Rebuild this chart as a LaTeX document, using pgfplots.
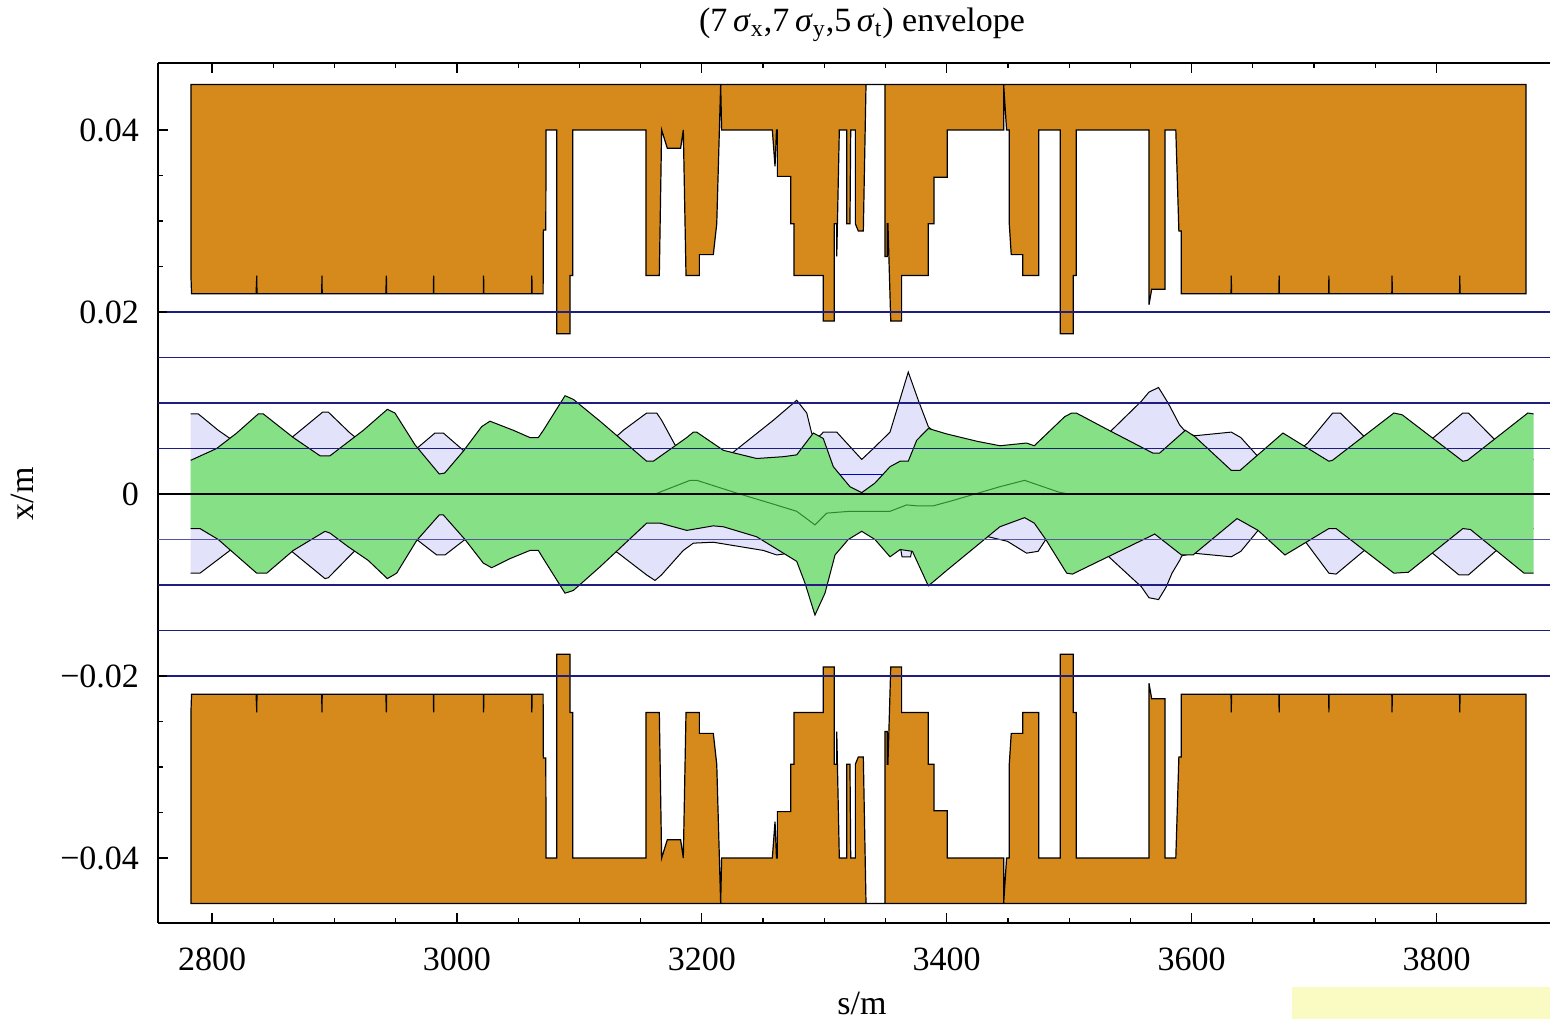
\documentclass[border=0pt]{standalone}
\usepackage{fontspec}
\setmainfont{Liberation Serif}
\usepackage{pgfplots}
\usepackage{pgfplotstable}
\pgfplotsset{compat=1.18}

\definecolor{aper}{RGB}{214,138,28}
\definecolor{envx}{RGB}{134,224,134}
\definecolor{envy}{RGB}{226,226,250}
\definecolor{orbit}{RGB}{45,135,45}
\definecolor{refline}{RGB}{30,30,128}
\definecolor{notebg}{RGB}{250,250,195}

% half aperture of the vacuum chamber (m) along s (m)
\pgfplotstableread{
s a
2782.8 0.045
2782.8 0.024
2783.3 0.022
2836.0 0.022
2836.6 0.024
2836.7 0.022
2889.6 0.022
2889.8 0.024
2890.0 0.022
2942.0 0.022
2942.4 0.024
2942.6 0.022
2980.8 0.022
2981.0 0.024
2981.2 0.022
3021.6 0.022
3021.8 0.024
3022.0 0.022
3061.0 0.022
3061.2 0.024
3061.4 0.022
3070.4 0.022
3070.6 0.029
3072.6 0.029
3072.8 0.040
3081.5 0.040
3081.5 0.0176
3092.4 0.0176
3092.4 0.024
3094.6 0.024
3094.6 0.040
3154.4 0.040
3154.4 0.024
3165.3 0.024
3167.2 0.040
3171.8 0.038
3182.7 0.038
3184.9 0.040
3187.1 0.024
3198.0 0.024
3198.0 0.0263
3209.4 0.0263
3212.2 0.0297
3215.4 0.045
3216.2 0.040
3257.6 0.040
3259.8 0.036
3261.0 0.040
3261.7 0.040
3261.7 0.0349
3272.6 0.0349
3272.6 0.0297
3275.3 0.0297
3275.3 0.024
3299.2 0.024
3299.2 0.019
3308.2 0.019
3308.2 0.0297
3310.2 0.0297
3310.2 0.0261
3312.3 0.040
3318.3 0.040
3318.3 0.0297
3321.0 0.0297
3321.6 0.040
3325.4 0.040
3325.4 0.0297
3327.8 0.0289
3331.9 0.0289
3334.1 0.045
3349.6 0.045
3349.6 0.0261
3351.5 0.0261
3351.5 0.0297
3352.0 0.0297
3354.3 0.019
3363.2 0.019
3363.2 0.024
3385.0 0.024
3385.0 0.0297
3389.6 0.0297
3389.6 0.0348
3400.5 0.0348
3400.5 0.040
3446.5 0.040
3446.5 0.045
3448.9 0.040
3451.1 0.040
3451.1 0.0297
3452.7 0.0263
3462.1 0.0263
3462.1 0.024
3475.2 0.024
3475.2 0.040
3492.7 0.040
3492.7 0.0176
3503.3 0.0176
3503.3 0.024
3505.8 0.024
3505.8 0.040
3565.2 0.040
3565.2 0.0208
3567.4 0.0225
3578.3 0.0225
3578.3 0.040
3587.1 0.040
3589.6 0.0289
3591.5 0.0289
3591.5 0.022
3632.2 0.022
3632.4 0.024
3632.6 0.022
3671.3 0.022
3671.5 0.024
3671.7 0.022
3712.0 0.022
3712.1 0.024
3712.2 0.022
3763.5 0.022
3763.7 0.024
3763.9 0.022
3818.8 0.022
3819.0 0.024
3819.2 0.022
3873.1 0.022
3873.1 0.024
3873.1 0.045
}\aperture

% vertical envelope: upper edge left to right, then lower edge right to left
\pgfplotstableread{
s y
2782.6 0.0088
2788.8 0.0088
2805.1 0.0070
2814.7 0.0061
2838.0 0.0040
2865.1 0.0062
2890.4 0.0090
2895.0 0.0090
2912.7 0.0067
2940.0 0.0038
2967.2 0.0050
2982.1 0.0067
2988.9 0.0067
3005.2 0.0048
3020.0 0.0040
3060.0 0.0040
3090.0 0.0045
3120.0 0.0055
3131.8 0.0065
3135.9 0.0070
3155.0 0.0089
3163.2 0.0089
3167.2 0.0081
3178.1 0.0054
3200.0 0.0040
3212.0 0.0040
3225.7 0.0046
3258.4 0.0081
3277.5 0.0103
3285.7 0.0089
3289.7 0.0067
3293.0 0.0060
3297.9 0.0066
3299.2 0.0068
3310.2 0.0068
3330.6 0.0038
3340.1 0.0050
3353.7 0.0068
3360.5 0.0098
3368.6 0.0134
3376.8 0.0103
3385.0 0.0074
3400.0 0.0055
3440.0 0.0045
3470.0 0.0040
3505.0 0.0036
3533.9 0.0069
3559.0 0.0102
3565.2 0.0112
3573.0 0.0117
3580.8 0.0100
3590.2 0.0076
3596.0 0.0067
3602.7 0.0064
3632.4 0.0068
3640.2 0.0062
3654.3 0.0041
3676.0 0.0036
3694.9 0.0056
3715.2 0.0089
3721.5 0.0089
3741.8 0.0062
3768.0 0.0036
3794.9 0.0059
3821.5 0.0089
3826.0 0.0089
3848.1 0.0059
3874.6 0.0038
3879.3 0.0038
3879.3 nan
3879.3 -0.0038
3874.6 -0.0038
3848.1 -0.0063
3826.0 -0.0089
3818.4 -0.0089
3794.9 -0.0063
3765.0 -0.0037
3740.2 -0.0063
3718.0 -0.0088
3712.1 -0.0087
3693.3 -0.0053
3676.0 -0.0036
3654.3 -0.0040
3640.2 -0.0063
3632.4 -0.0069
3601.2 -0.0065
3592.0 -0.0068
3590.2 -0.0073
3584.0 -0.0087
3579.3 -0.0102
3573.0 -0.0116
3565.2 -0.0114
3559.0 -0.0102
3532.4 -0.0069
3520.0 -0.0045
3500.0 -0.0040
3480.9 -0.0050
3474.6 -0.0063
3465.2 -0.0065
3449.6 -0.0052
3434.0 -0.0047
3430.0 -0.0040
3400.0 -0.0045
3380.0 -0.0050
3371.5 -0.0062
3370.5 -0.0069
3363.5 -0.0069
3362.5 -0.0061
3355.0 -0.0050
3340.0 -0.0035
3320.0 -0.0040
3300.0 -0.0055
3280.0 -0.0060
3266.6 -0.0066
3261.2 -0.0067
3250.2 -0.0062
3209.4 -0.0053
3193.1 -0.0054
3184.9 -0.0062
3167.0 -0.0089
3161.8 -0.0095
3155.0 -0.0089
3131.8 -0.0065
3120.0 -0.0055
3090.0 -0.0045
3060.0 -0.0040
3025.0 -0.0040
3006.6 -0.0050
2990.3 -0.0067
2983.5 -0.0067
2967.2 -0.0050
2940.0 -0.0038
2915.4 -0.0064
2895.0 -0.0092
2892.3 -0.0093
2865.1 -0.0063
2840.0 -0.0038
2814.7 -0.0062
2790.2 -0.0087
2782.6 -0.0087
}\envY

% horizontal envelope: upper edge left to right, then lower edge right to left
\pgfplotstableread{
s y
2782.6 0.0037
2803.8 0.0050
2820.2 0.0067
2837.8 0.0088
2841.9 0.0088
2866.4 0.0062
2888.2 0.0042
2896.4 0.0042
2923.6 0.0070
2943.2 0.0093
2949.4 0.0089
2965.8 0.0054
2985.6 0.0022
2990.0 0.0023
3005.2 0.0047
3020.2 0.0074
3027.0 0.0080
3046.1 0.0070
3059.7 0.0062
3066.5 0.0062
3070.6 0.0070
3088.3 0.0108
3095.1 0.0104
3116.9 0.0080
3155.0 0.0036
3160.4 0.0036
3187.7 0.0062
3193.1 0.0068
3195.8 0.0068
3217.6 0.0048
3244.8 0.0039
3266.6 0.0041
3277.5 0.0043
3291.1 0.0067
3299.2 0.0061
3307.4 0.0030
3321.0 0.0008
3330.6 0.00015
3341.4 0.0012
3353.7 0.0030
3361.9 0.0036
3368.6 0.0036
3375.5 0.0059
3385.0 0.0072
3400.0 0.0066
3424.5 0.0058
3443.5 0.0053
3465.2 0.0056
3471.5 0.0053
3496.4 0.0085
3502.1 0.0089
3505.8 0.0089
3533.9 0.0069
3568.3 0.0045
3573.9 0.0045
3594.9 0.0070
3602.7 0.0063
3632.4 0.0026
3639.6 0.0026
3674.6 0.0067
3712.1 0.0036
3715.0 0.0037
3765.2 0.0089
3772.0 0.0087
3821.5 0.0036
3825.3 0.0037
3874.6 0.0089
3879.3 0.0088
3879.3 nan
3879.3 -0.0087
3871.5 -0.0087
3827.7 -0.0039
3821.5 -0.0038
3777.0 -0.0086
3765.2 -0.0087
3718.0 -0.0038
3712.1 -0.0038
3676.2 -0.0067
3654.3 -0.0040
3637.1 -0.0027
3601.2 -0.0067
3591.7 -0.0067
3569.9 -0.0044
3502.7 -0.0088
3498.0 -0.0087
3480.9 -0.0050
3471.5 -0.0032
3463.6 -0.0026
3443.4 -0.0036
3400.0 -0.0084
3385.0 -0.0101
3372.0 -0.0063
3362.0 -0.0061
3353.7 -0.0069
3341.4 -0.0050
3330.6 -0.0041
3319.6 -0.0050
3308.8 -0.0067
3300.6 -0.0109
3292.4 -0.0133
3284.3 -0.0098
3277.5 -0.0074
3266.6 -0.0065
3244.8 -0.0047
3217.6 -0.0036
3209.4 -0.0035
3187.7 -0.0040
3165.9 -0.0032
3155.0 -0.0032
3116.9 -0.0080
3095.1 -0.0106
3088.3 -0.0109
3070.6 -0.0071
3066.5 -0.0062
3059.7 -0.0062
3043.4 -0.0071
3028.4 -0.0081
3021.6 -0.0076
3006.6 -0.0050
2988.9 -0.0023
2985.6 -0.0023
2967.2 -0.0051
2950.8 -0.0087
2943.2 -0.0093
2927.6 -0.0073
2911.3 -0.0058
2896.4 -0.0043
2892.3 -0.0041
2866.4 -0.0062
2844.7 -0.0087
2836.5 -0.0087
2805.1 -0.0050
2790.2 -0.0038
2782.6 -0.0038
}\envX

% closed orbit
\pgfplotstableread{
s y
3161.8 0.0
3190.4 0.0015
3196.0 0.0015
3212.2 0.0008
3228.5 0.0001
3255.7 -0.0010
3277.5 -0.0019
3292.4 -0.0034
3302.0 -0.0021
3321.0 -0.0019
3353.7 -0.0019
3367.3 -0.0012
3375.5 -0.0013
3389.1 -0.0013
3405.4 -0.0007
3443.4 0.0008
3463.6 0.0015
3491.7 0.0002
3500.0 0.0
}\orbit

\begin{document}
\begin{tikzpicture}[font=\fontsize{17}{20}\selectfont]
\path[use as bounding box] (0,0) rectangle (775pt,509.5pt);
\begin{axis}[
  at={(79pt,48pt)}, anchor=south west,
  scale only axis, width=696pt, height=430pt,
  xmin=2755.9, xmax=3892.7, ymin=-0.04714, ymax=0.04736,
  axis y line*=left,
  axis line style={line width=0.7pt},
  tick align=inside,
  major tick length=5pt, minor tick length=2.5pt,
  every tick/.style={line width=0.6pt, black},
  scaled x ticks=false, scaled y ticks=false,
  xtick={2800,3000,3200,3400,3600,3800},
  xticklabels={2800,3000,3200,3400,3600,3800},
  minor x tick num=3,
  ytick={-0.04,-0.02,0,0.02,0.04},
  yticklabels={−0.04,−0.02,0,0.02,0.04},
  minor y tick num=3,
  ticklabel style={font=\fontsize{17}{20}\selectfont},
  xticklabel style={yshift=-9pt},
  yticklabel style={xshift=-6pt},
]
% chamber walls
\addplot[fill=aper, draw=black, line width=0.6pt] table[x=s, y=a] {\aperture} -- cycle;
\addplot[fill=aper, draw=black, line width=0.6pt] table[x=s, y expr=-\thisrow{a}] {\aperture} -- cycle;
% vertical envelope
\addplot[fill=envy, draw=none] table[x=s, y=y] {\envY} -- cycle;
\addplot[black, line width=0.5pt, unbounded coords=jump] table[x=s, y=y] {\envY};
% horizontal envelope
\addplot[fill=envx, draw=none] table[x=s, y=y] {\envX} -- cycle;
\addplot[black, line width=0.5pt, unbounded coords=jump] table[x=s, y=y] {\envX};
% orbit
\addplot[orbit, line width=0.5pt] table[x=s, y=y] {\orbit};
\addplot[blue!80!black, line width=0.5pt] coordinates {(3312.8,0.0021) (3348,0.0021)};
% reference levels
\addplot[refline, line width=0.9pt] coordinates {(2763,0.02) (3892.7,0.02)};
\addplot[refline, line width=0.9pt] coordinates {(2755.9,0.015) (3892.7,0.015)};
\addplot[refline, line width=0.9pt] coordinates {(2755.9,0.01) (3892.7,0.01)};
\addplot[refline, line width=0.9pt] coordinates {(2755.9,0.005) (3892.7,0.005)};
\addplot[black, line width=0.9pt] coordinates {(2755.9,0) (3892.7,0)};
\addplot[refline!75, line width=0.9pt] coordinates {(2755.9,-0.005) (3892.7,-0.005)};
\addplot[refline, line width=0.9pt] coordinates {(2755.9,-0.01) (3892.7,-0.01)};
\addplot[refline, line width=0.9pt] coordinates {(2755.9,-0.015) (3892.7,-0.015)};
\addplot[refline, line width=0.9pt] coordinates {(2763,-0.02) (3892.7,-0.02)};
\end{axis}
\node at (431pt,497pt) {(7\,\textit{σ}\textsubscript{x},7\,\textit{σ}\textsubscript{y},5\,\textit{σ}\textsubscript{t}) envelope};
\node at (431pt,8pt) {s/m};
\node[rotate=90] at (11pt,262.5pt) {x/m};
\fill[notebg] (646pt,0pt) rectangle (775pt,16pt);
\end{tikzpicture}
\end{document}
